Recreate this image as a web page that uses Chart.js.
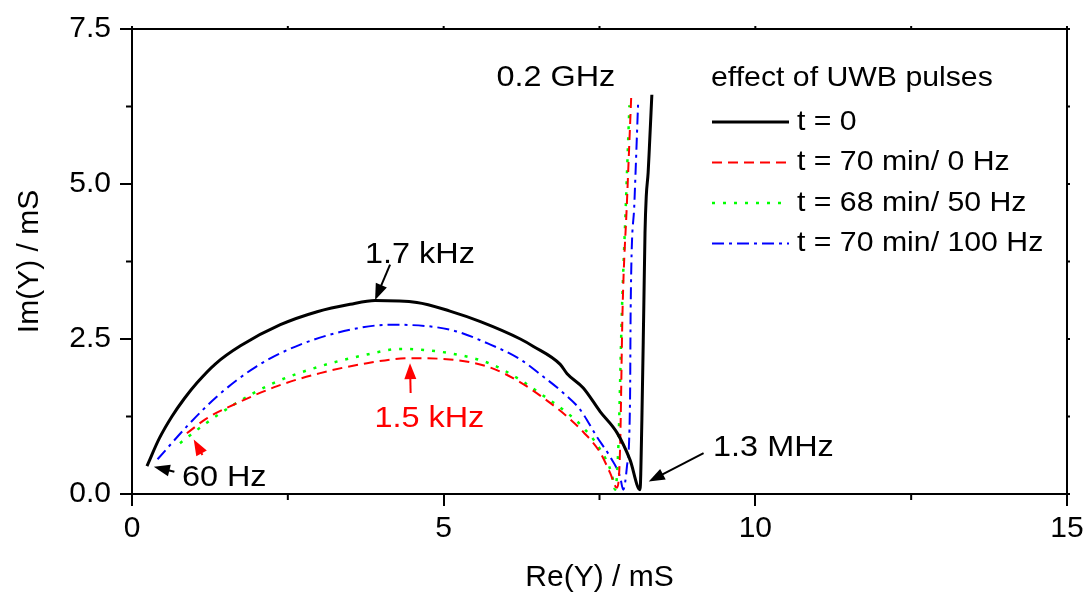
<!DOCTYPE html>
<html>
<head>
<meta charset="utf-8">
<script src="https://cdn.jsdelivr.net/npm/chart.js@4.4.1/dist/chart.umd.min.js"></script>
<style>
  html, body { margin: 0; padding: 0; background: #fff; }
</style>
</head>
<body>
<canvas id="nyquistChart" width="1091" height="596"></canvas>
<script>
// ADMITTANCE SPECTRA, Re(Y) vs Im(Y) IN mS
const reT0 = [0.24, 0.44, 0.64, 0.84, 1.04, 1.34, 1.74, 2.38, 2.97, 3.50, 3.90, 4.57, 5.10, 5.59, 6.23, 6.44, 6.87, 6.98, 7.24, 7.51, 7.78, 7.99, 8.15, 8.18, 8.21, 8.23, 8.25, 8.28, 8.30, 8.34];
const imT0 = [0.45, 0.90, 1.25, 1.54, 1.79, 2.10, 2.39, 2.73, 2.94, 3.06, 3.12, 3.09, 2.95, 2.78, 2.50, 2.38, 2.09, 1.94, 1.71, 1.33, 0.99, 0.55, 0.07, 1.20, 2.97, 4.21, 4.80, 5.18, 5.58, 6.44];

const re0Hz = [0.88, 1.20, 1.63, 2.33, 3.02, 3.77, 4.46, 5.10, 5.75, 6.23, 6.60, 6.98, 7.24, 7.51, 7.67, 7.78, 7.83, 7.87, 7.94, 8.01];
const im0Hz = [0.98, 1.22, 1.44, 1.74, 1.95, 2.11, 2.19, 2.17, 2.04, 1.80, 1.55, 1.25, 1.00, 0.67, 0.34, 0.10, 0.72, 2.97, 4.70, 6.44];

const re50Hz = [0.77, 1.20, 1.63, 2.27, 3.02, 3.77, 4.30, 5.10, 5.75, 6.23, 6.55, 6.98, 7.24, 7.51, 7.70, 7.75, 7.80, 7.86, 7.92, 7.98];
const im50Hz = [0.82, 1.15, 1.44, 1.79, 2.06, 2.25, 2.34, 2.27, 2.10, 1.84, 1.62, 1.31, 1.07, 0.72, 0.31, 0.07, 0.70, 2.97, 4.60, 6.27];

const re100Hz = [0.41, 0.88, 1.36, 2.00, 2.70, 3.50, 4.14, 5.10, 5.75, 6.23, 6.55, 6.92, 7.19, 7.46, 7.67, 7.83, 7.88, 7.94, 7.99, 8.00, 8.06, 8.12];
const im100Hz = [0.56, 1.09, 1.57, 2.06, 2.41, 2.65, 2.73, 2.65, 2.41, 2.17, 1.93, 1.63, 1.36, 0.92, 0.60, 0.28, 0.07, 0.44, 1.52, 3.00, 4.70, 6.32];

const seriesLabels = ["t = 0", "t = 70 min/ 0 Hz", "t = 68 min/ 50 Hz", "t = 70 min/ 100 Hz"];
const xTicks = [0, 5, 10, 15];
const yTicks = [0, 2.5, 5, 7.5];
const xMinorTicks = [2.5, 7.5, 12.5];
const yMinorTicks = [1.25, 3.75, 6.25];

// frequency markers: text position, arrow tail, arrow tip (data units)
const markers = [
  { text: "0.2 GHz", color: "#000", at: [6.80, 6.71] },
  { text: "1.7 kHz", color: "#000", at: [4.62, 3.86], from: [4.14, 3.70], to: [3.90, 3.13] },
  { text: "1.5 kHz", color: "#ff0000", at: [4.77, 1.22], from: [4.47, 1.63], to: [4.46, 2.11] },
  { text: "60 Hz", color: "#000", at: [1.48, 0.27], from: [0.68, 0.36], to: [0.35, 0.44] },
  { text: "", color: "#ff0000", from: [1.13, 0.63], to: [0.99, 0.88] },
  { text: "1.3 MHz", color: "#000", at: [10.29, 0.75], from: [9.17, 0.66], to: [8.29, 0.20] },
];

const FONT = "'Liberation Sans', Arial, sans-serif";
const TEXT_STRETCH = 1.08;

function toPoints(xs, ys) {
  return xs.map((x, i) => ({ x: x, y: ys[i] }));
}

// slightly widened text, matching the tick label face
function drawText(ctx, text, px, py) {
  ctx.save();
  ctx.translate(px, py);
  ctx.scale(TEXT_STRETCH, 1);
  ctx.fillText(text, 0, 0);
  ctx.restore();
}

function drawArrow(ctx, x1, y1, x2, y2, color) {
  const ang = Math.atan2(y2 - y1, x2 - x1);
  const len = 16;
  const half = 6;
  ctx.strokeStyle = color;
  ctx.fillStyle = color;
  ctx.lineWidth = 2;
  ctx.beginPath();
  ctx.moveTo(x1, y1);
  ctx.lineTo(x2 - Math.cos(ang) * len * 0.8, y2 - Math.sin(ang) * len * 0.8);
  ctx.stroke();
  ctx.beginPath();
  ctx.moveTo(x2, y2);
  ctx.lineTo(x2 - Math.cos(ang) * len - Math.sin(ang) * half, y2 - Math.sin(ang) * len + Math.cos(ang) * half);
  ctx.lineTo(x2 - Math.cos(ang) * len + Math.sin(ang) * half, y2 - Math.sin(ang) * len - Math.cos(ang) * half);
  ctx.closePath();
  ctx.fill();
}

// box frame, minor ticks, frequency markers and legend
const extras = {
  id: "extras",
  afterDraw(chart) {
    const { ctx, chartArea: a, scales: { x, y } } = chart;
    ctx.save();

    ctx.strokeStyle = "#000";
    ctx.lineWidth = 2;
    ctx.beginPath();
    ctx.moveTo(a.left, a.top);
    ctx.lineTo(a.right, a.top);
    ctx.lineTo(a.right, a.bottom);
    ctx.stroke();

    ctx.beginPath();
    xMinorTicks.forEach((v) => {
      const px = x.getPixelForValue(v);
      ctx.moveTo(px, a.bottom);
      ctx.lineTo(px, a.bottom + 6);
    });
    yMinorTicks.forEach((v) => {
      const py = y.getPixelForValue(v);
      ctx.moveTo(a.left, py);
      ctx.lineTo(a.left - 6, py);
    });
    // short outward ticks on the top and right edges
    xTicks.concat(xMinorTicks).forEach((v) => {
      const px = x.getPixelForValue(v);
      ctx.moveTo(px, a.top);
      ctx.lineTo(px, a.top - 3);
    });
    yTicks.concat(yMinorTicks).forEach((v) => {
      const py = y.getPixelForValue(v);
      ctx.moveTo(a.right, py);
      ctx.lineTo(a.right + 3, py);
    });
    ctx.stroke();

    ctx.font = "30px " + FONT;
    ctx.textAlign = "center";
    ctx.textBaseline = "middle";
    markers.forEach((m) => {
      if (m.from) {
        drawArrow(ctx, x.getPixelForValue(m.from[0]), y.getPixelForValue(m.from[1]),
          x.getPixelForValue(m.to[0]), y.getPixelForValue(m.to[1]), m.color);
      }
      if (m.text) {
        ctx.fillStyle = m.color;
        drawText(ctx, m.text, x.getPixelForValue(m.at[0]), y.getPixelForValue(m.at[1]));
      }
    });

    // legend
    const lx = a.left + 579;
    const ly = a.top + 49;
    ctx.font = "28px " + FONT;
    ctx.textAlign = "left";
    ctx.fillStyle = "#000";
    drawText(ctx, "effect of UWB pulses", lx, ly);
    chart.data.datasets.forEach((ds, i) => {
      const rowY = ly + 44 + i * 40.5;
      ctx.strokeStyle = ds.borderColor;
      ctx.lineWidth = ds.borderWidth;
      ctx.setLineDash(ds.borderDash || []);
      ctx.beginPath();
      ctx.moveTo(lx + 1, rowY);
      ctx.lineTo(lx + 78, rowY);
      ctx.stroke();
      ctx.setLineDash([]);
      ctx.fillStyle = "#000";
      drawText(ctx, ds.label, lx + 86, rowY);
    });

    ctx.restore();
  },
};

const lineStyle = { showLine: true, pointRadius: 0, fill: false, cubicInterpolationMode: "monotone" };

new Chart(document.getElementById("nyquistChart"), {
  type: "scatter",
  data: {
    datasets: [
      { ...lineStyle, label: seriesLabels[0], data: toPoints(reT0, imT0), borderColor: "#000000", borderWidth: 3 },
      { ...lineStyle, label: seriesLabels[1], data: toPoints(re0Hz, im0Hz), borderColor: "#ff0000", borderWidth: 2, borderDash: [10, 6] },
      { ...lineStyle, label: seriesLabels[2], data: toPoints(re50Hz, im50Hz), borderColor: "#00ff00", borderWidth: 2.5, borderDash: [3, 8] },
      { ...lineStyle, label: seriesLabels[3], data: toPoints(re100Hz, im100Hz), borderColor: "#0000ff", borderWidth: 2, borderDash: [12, 5, 3, 5] },
    ],
  },
  options: {
    responsive: false,
    animation: false,
    devicePixelRatio: 1,
    layout: { padding: { top: 29, right: 24, left: 0, bottom: 0 } },
    plugins: { legend: { display: false }, tooltip: { enabled: false } },
    scales: {
      x: {
        type: "linear",
        min: 0,
        max: 15,
        afterFit: (s) => { s.height = 102; },
        afterBuildTicks: (s) => { s.ticks = xTicks.map((v) => ({ value: v })); },
        grid: { drawOnChartArea: false, color: "#000", lineWidth: 2, tickLength: 12 },
        border: { display: true, color: "#000", width: 2 },
        ticks: { color: "#000", font: { family: FONT, size: 30 }, padding: 5, maxRotation: 0 },
        title: { display: true, text: "Re(Y) / mS", color: "#000", font: { family: FONT, size: 30 }, padding: { top: 0, bottom: 0 } },
      },
      y: {
        type: "linear",
        min: 0,
        max: 7.5,
        afterFit: (s) => { s.width = 132; },
        afterBuildTicks: (s) => { s.ticks = yTicks.map((v) => ({ value: v })); },
        grid: { drawOnChartArea: false, color: "#000", lineWidth: 2, tickLength: 12 },
        border: { display: true, color: "#000", width: 2 },
        ticks: { color: "#000", font: { family: FONT, size: 30 }, padding: 9, callback: (v) => v.toFixed(1) },
        title: { display: true, text: "Im(Y) / mS", color: "#000", font: { family: FONT, size: 30 }, padding: { top: 12, bottom: 0 } },
      },
    },
  },
  plugins: [extras],
});
</script>
</body>
</html>
